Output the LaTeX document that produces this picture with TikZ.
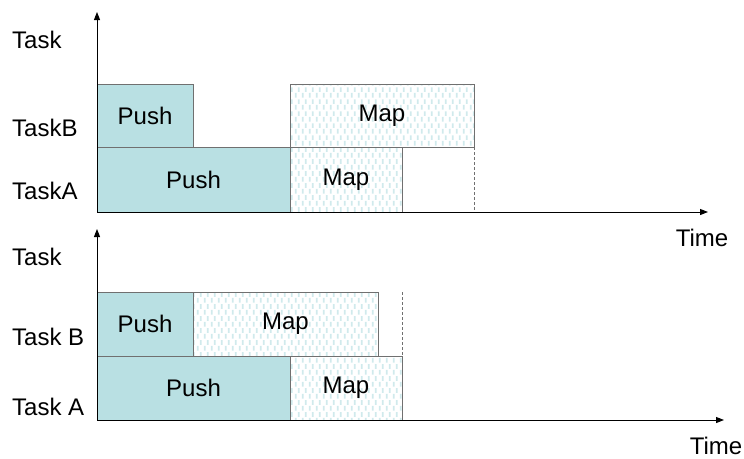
\documentclass[tikz,border=0pt]{standalone}
\usepackage{fontspec}
\setmainfont{Liberation Sans}
\usetikzlibrary{arrows.meta,patterns}

\definecolor{pushfill}{RGB}{185,224,227}
\definecolor{edgegrey}{RGB}{112,112,112}
\definecolor{dashblue}{RGB}{208,234,236}

% staggered short vertical dashes used for the Map phases
\pgfdeclarepatternformonly{mapdash}{\pgfqpoint{0pt}{0pt}}{\pgfqpoint{7pt}{12pt}}{\pgfqpoint{7pt}{12pt}}{%
  \pgfpathrectangle{\pgfqpoint{1pt}{0.5pt}}{\pgfqpoint{2pt}{5pt}}%
  \pgfpathrectangle{\pgfqpoint{4.5pt}{6.5pt}}{\pgfqpoint{2pt}{5pt}}%
  \pgfusepath{fill}%
}

\begin{document}
\begin{tikzpicture}[x=1pt,y=-1pt,
  txt/.style={font=\fontsize{24}{28}\selectfont},
  bar/.style={txt, draw=edgegrey, line width=1pt, rectangle, inner sep=0pt,
    outer sep=0pt, anchor=north west},
  pushbar/.style={bar, fill=pushfill},
  mapbar/.style={bar, pattern=mapdash, pattern color=dashblue},
  axis/.style={line width=1pt, -{Triangle[length=8pt,width=6pt]}},
  rowlabel/.style={txt, anchor=west, inner sep=0pt},
  timelabel/.style={txt, inner sep=0pt, anchor=base},
  finish/.style={draw=edgegrey, line width=1pt, dashed, dash pattern=on 3pt off 2pt}]
\useasboundingbox (0,0) rectangle (744,458);

% ---------- upper schedule ----------
\coordinate (O1) at (97,212);
\coordinate (Y1) at (97,12);
\coordinate (X1) at (708,212);

\node[pushbar, minimum width=96pt,  minimum height=63pt] (pb1) at (97,84)  {Push};
\node[mapbar,  minimum width=184pt, minimum height=63pt] (mb1) at (290,84) {Map};
\node[pushbar, minimum width=193pt, minimum height=65pt] (pa1) at (97,147) {Push};
\node[mapbar,  minimum width=112pt, minimum height=65pt] (ma1) at (290,147) {Map};

\draw[finish] (mb1.south east) -- (mb1.south east |- O1);

\draw[axis] (O1) -- (Y1);
\draw[axis] (O1) -- (X1);

\node[rowlabel] (t1)  at (12,40)  {Task};
\node[rowlabel] (tb1) at (12,128) {TaskB};
\node[rowlabel] (ta1) at (12,191) {TaskA};
\node[timelabel] (time1) at (702,246) {Time};

% ---------- lower schedule ----------
\coordinate (O2) at (97,420);
\coordinate (Y2) at (97,229);
\coordinate (X2) at (724,420);

\node[pushbar, minimum width=96pt,  minimum height=64pt] (pb2) at (97,292)  {Push};
\node[mapbar,  minimum width=185pt, minimum height=64pt] (mb2) at (193,292) {Map};
\node[pushbar, minimum width=193pt, minimum height=64pt] (pa2) at (97,356)  {Push};
\node[mapbar,  minimum width=112pt, minimum height=64pt] (ma2) at (290,356) {Map};

\coordinate (end2) at (ma2.north east |- mb2.north);
\draw[finish] (end2) -- (ma2.north east);

\draw[axis] (O2) -- (Y2);
\draw[axis] (O2) -- (X2);

\node[rowlabel] (t2)  at (12,257) {Task};
\node[rowlabel] (tb2) at (12,337) {Task B};
\node[rowlabel] (ta2) at (12,407) {Task A};
\node[timelabel] (time2) at (716,454) {Time};
\end{tikzpicture}
\end{document}
